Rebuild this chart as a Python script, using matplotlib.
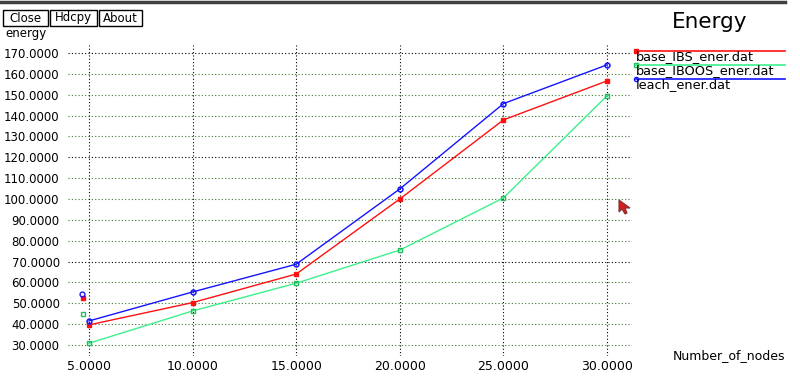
import matplotlib
matplotlib.use("Agg")
import matplotlib.pyplot as plt
from matplotlib.lines import Line2D
from matplotlib.patches import Rectangle, Polygon

# data
nodes = [5, 10, 15, 20, 25, 30]
ibs_energy = [39.6, 50.3, 64.0, 100.0, 137.9, 156.6]
iboos_energy = [30.8, 46.3, 59.6, 75.5, 100.5, 149.5]
leach_energy = [41.5, 55.4, 68.7, 104.8, 145.7, 164.3]

# stray markers left of the first column
stray_x = [4.7, 4.7, 4.65]
stray_y = [52.7, 45.0, 54.4]

series_names = ["base_IBS_ener.dat", "base_IBOOS_ener.dat", "leach_ener.dat"]
y_ticks = [30, 40, 50, 60, 70, 80, 90, 100, 110, 120, 130, 140, 150, 160, 170]
x_ticks = [5, 10, 15, 20, 25, 30]

RED = "#ff1010"
GREEN = "#3cf08c"
BLUE = "#1414ff"
GRID_GREEN = "#3f7a32"

W, H = 800, 381
fig = plt.figure(figsize=(W / 100, H / 100), dpi=100)
fig.patch.set_facecolor("white")


def fx(x):
    return x / W


def fy(y):
    return 1 - y / H


# plot area, in pixels: x 68..632, y 45..356
ax = fig.add_axes([fx(68), fy(356), fx(632) - fx(68), fy(45) - fy(356)])
ax.set_xlim(3.99, 31.2)
ax.set_ylim(24.7, 173.8)
for s in ax.spines.values():
    s.set_visible(False)
ax.set_facecolor("white")

dot = (0, (1, 2))
for v in y_ticks:
    c = "black" if v in (70, 120, 170) else GRID_GREEN
    ax.axhline(v, color=c, lw=0.8, ls=dot, zorder=1)
for v in x_ticks:
    ax.axvline(v, color="black", lw=0.8, ls=dot, zorder=1)

ax.set_yticks(y_ticks)
ax.set_yticklabels([f"{v:.4f}" for v in y_ticks], fontsize=8.5)
ax.set_xticks(x_ticks)
ax.set_xticklabels([f"{v:.4f}" for v in x_ticks], fontsize=9)
ax.tick_params(axis="y", length=0, pad=6)
ax.tick_params(axis="x", length=0, pad=3)

ax.plot(nodes, iboos_energy, color=GREEN, lw=1, marker="s", ms=3.5,
        mfc="none", mec="#20c060", zorder=3)
ax.plot(nodes, ibs_energy, color=RED, lw=1, marker="s", ms=2.5,
        mfc=RED, mec=RED, zorder=4)
ax.plot(nodes, leach_energy, color=BLUE, lw=1, marker="o", ms=3.5,
        mfc="none", mec=BLUE, mew=1.1, zorder=5)

# stray markers
ax.plot(stray_x[0], stray_y[0], ls="none", marker="s", ms=2.5, color=RED, clip_on=False)
ax.plot(stray_x[1], stray_y[1], ls="none", marker="s", ms=3.5, mfc="none", mec="#20c060", clip_on=False)
ax.plot(stray_x[2], stray_y[2], ls="none", marker="o", ms=3.5, mfc="none", mec=BLUE, clip_on=False)

# window chrome: top bar and buttons
fig.add_artist(Line2D([fx(0), fx(785)], [fy(2), fy(2)], color="#404040", lw=2.5))
buttons = [("Close", 3, 48), ("Hdcpy", 50, 97), ("About", 99, 142)]
for label, x0, x1 in buttons:
    fig.add_artist(Rectangle((fx(x0), fy(26)), fx(x1) - fx(x0), fy(10) - fy(26),
                             fill=False, ec="black", lw=1, transform=fig.transFigure))
    fig.text(fx((x0 + x1) / 2), fy(18), label, ha="center", va="center", fontsize=8.5)

fig.text(fx(5), fy(34), "energy", ha="left", va="center", fontsize=8.5)
fig.text(fx(710), fy(22), "Energy", ha="center", va="center", fontsize=15.5)
fig.text(fx(673), fy(356), "Number_of_nodes", ha="left", va="center", fontsize=9)

# legend on the right
leg_styles = [
    (RED, "s", RED, 51),
    (GREEN, "s", "none", 65),
    (BLUE, "o", "none", 79),
]
for name, (c, m, mf, y) in zip(series_names, leg_styles):
    mec = "#20c060" if c == GREEN else c
    fig.add_artist(Line2D([fx(636), fx(785)], [fy(y), fy(y)], color=c, lw=1.2))
    fig.add_artist(Line2D([fx(636)], [fy(y)], marker=m, ms=3, mfc=mf, mec=mec, ls="none"))
    fig.text(fx(636), fy(y + 6), name, ha="left", va="center", fontsize=9.3)

# mouse cursor
cursor = [(619, 200), (619, 212), (622, 209), (625, 214), (627, 213), (625, 208), (630, 208)]
fig.add_artist(Polygon([(fx(a), fy(b)) for a, b in cursor], closed=True,
                       fc="#d02020", ec="#803030", lw=0.8, transform=fig.transFigure))

fig.savefig("out.png", dpi=100, facecolor="white")
